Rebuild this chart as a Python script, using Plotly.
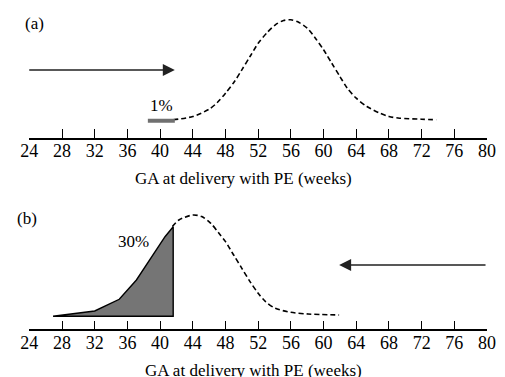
import plotly.graph_objects as go

FONT = "Liberation Serif"

tick_vals = list(range(24, 81, 4))
axis_title = "GA at delivery with PE (weeks)"

# Panel (a): dashed distribution curve (weeks, height above axis)
a_x = [41.6, 44.0, 46.0, 47.0, 48.0, 49.1, 50.0, 51.0, 52.0, 53.1, 54.1, 55.1, 56.0,
       57.0, 58.0, 59.0, 60.0, 61.0, 62.0, 62.9, 64.0, 65.3, 66.9, 68.0, 69.3, 72.0, 73.8]
a_y = [17.7, 21.0, 28.3, 35.0, 44.3, 56.0, 67.7, 81.0, 94.3, 105.0, 112.7, 117.0, 117.7,
       115.0, 109.3, 99.3, 87.7, 74.3, 61.0, 49.3, 39.3, 31.0, 24.3, 21.0, 19.3, 18.3, 17.7]
# Panel (a): grey bar (1%)
bar_a_x = [38.5, 41.8]
bar_a_y = [16.8, 16.8]
arrow_a = {"tail": (23.8, 67.5), "head": (41.8, 67.5)}
label_a = {"text": "1%", "x": 40.2, "y": 31.8}

# Panel (b): dashed distribution curve
b_x = [41.5, 42.3, 44.0, 45.1, 46.2, 47.2, 48.0, 49.0, 50.0, 51.0, 52.0, 52.9, 54.1, 56.0, 58.1, 61.9]
b_y = [102.7, 109.3, 114.3, 112.7, 106.0, 96.0, 87.7, 74.3, 61.0, 47.7, 36.0, 27.7, 21.0, 17.0, 15.3, 14.3]
# Panel (b): shaded area (30%)
fill_x = [26.9, 32.0, 35.0, 37.1, 40.6, 41.6, 41.6, 26.9]
fill_y = [13.0, 18.3, 30.0, 49.3, 92.6, 102.6, 13.0, 13.0]
arrow_b = {"tail": (80.0, 64.3), "head": (61.9, 64.3)}
label_b = {"text": "30%", "x": 36.8, "y": 87.6}

W, H = 505, 377
fig = go.Figure()

dash = "5px,3px"
fig.add_trace(go.Scatter(x=a_x, y=a_y, mode="lines",
                         line=dict(color="black", width=1.6, dash=dash, shape="spline", smoothing=0.8),
                         xaxis="x", yaxis="y", hoverinfo="skip"))
fig.add_trace(go.Scatter(x=bar_a_x, y=bar_a_y, mode="lines", line=dict(color="#707070", width=4),
                         xaxis="x", yaxis="y", hoverinfo="skip"))
fig.add_trace(go.Scatter(x=fill_x, y=fill_y, mode="lines", fill="toself", fillcolor="#757575",
                         line=dict(color="black", width=1.4),
                         xaxis="x2", yaxis="y2", hoverinfo="skip"))
fig.add_trace(go.Scatter(x=b_x, y=b_y, mode="lines",
                         line=dict(color="black", width=1.6, dash=dash, shape="spline", smoothing=0.8),
                         xaxis="x2", yaxis="y2", hoverinfo="skip"))

xdom = [21.1 / W, 495.7 / W]
axis_common = dict(range=[24, 80], tickvals=tick_vals, ticks="inside", ticklen=9, tickwidth=1.2,
                   tickcolor="black", showline=True, linecolor="black", linewidth=1.5,
                   showgrid=False, zeroline=False, domain=xdom, ticklabelstandoff=-4,
                   tickfont=dict(family=FONT, size=18, color="black"))
fig.update_layout(
    width=W, height=H,
    margin=dict(l=0, r=0, t=0, b=0),
    paper_bgcolor="white", plot_bgcolor="white",
    showlegend=False,
    xaxis=dict(**axis_common, anchor="y"),
    yaxis=dict(domain=[1 - 137.5 / H, 1], range=[0, 137.5], visible=False, anchor="x"),
    xaxis2=dict(**axis_common, anchor="y2"),
    yaxis2=dict(domain=[1 - 329.3 / H, 1 - 180 / H], range=[0, 149.3], visible=False, anchor="x2"),
)

txt = dict(family=FONT, size=17, color="black")
ann = []
for arr, xr, yr in [(arrow_a, "x", "y"), (arrow_b, "x2", "y2")]:
    ann.append(dict(x=arr["head"][0], y=arr["head"][1], ax=arr["tail"][0], ay=arr["tail"][1],
                    xref=xr, yref=yr, axref=xr, ayref=yr, text="", showarrow=True,
                    arrowhead=2, arrowsize=1.6, arrowwidth=1.5, arrowcolor="#222", standoff=0))
ann.append(dict(x=label_a["x"], y=label_a["y"], xref="x", yref="y", text=label_a["text"], showarrow=False,
                xanchor="center", yanchor="middle", font=txt))
ann.append(dict(x=label_b["x"], y=label_b["y"], xref="x2", yref="y2", text=label_b["text"], showarrow=False,
                xanchor="center", yanchor="middle", font=txt))
ann.append(dict(x=26.7 / W, y=1 - 23.3 / H, xref="paper", yref="paper", text="(a)", showarrow=False,
                xanchor="center", yanchor="middle", font=txt))
ann.append(dict(x=18.3 / W, y=1 - 218.3 / H, xref="paper", yref="paper", text="(b)", showarrow=False,
                xanchor="center", yanchor="middle", font=txt))
ann.append(dict(x=243.3 / W, y=1 - 178 / H, xref="paper", yref="paper", text=axis_title, showarrow=False,
                xanchor="center", yanchor="middle", font=txt))
ann.append(dict(x=254 / W, y=1 - 370 / H, xref="paper", yref="paper", text=axis_title, showarrow=False,
                xanchor="center", yanchor="middle", font=txt))
fig.update_layout(annotations=ann)

fig.write_html("out.html")
